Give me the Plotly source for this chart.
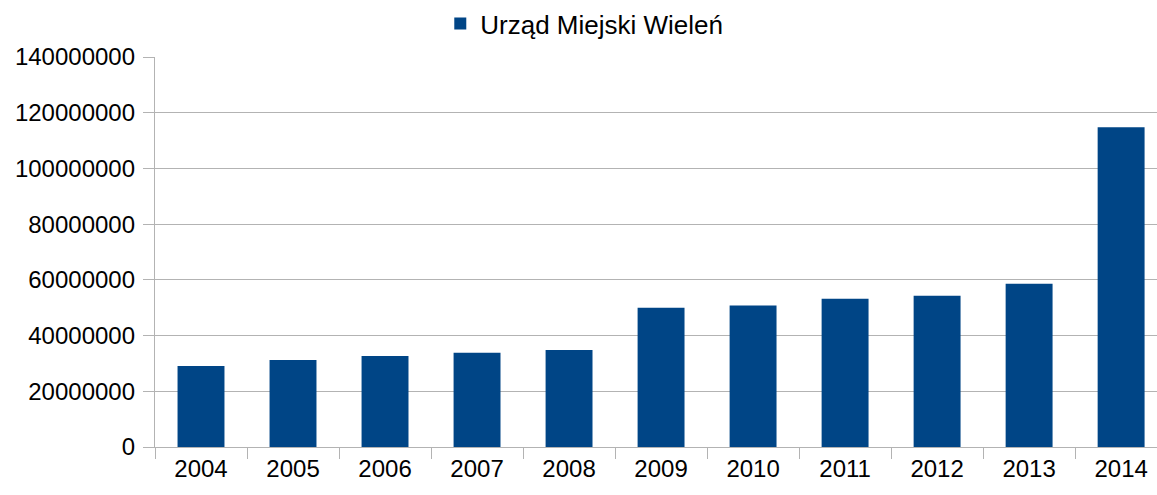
import plotly.graph_objects as go

years = ["2004", "2005", "2006", "2007", "2008", "2009", "2010", "2011", "2012", "2013", "2014"]
values = [29100000, 31200000, 32700000, 33800000, 34800000, 50000000, 50800000,
          53200000, 54300000, 58600000, 114800000]
series_name = "Urząd Miejski Wieleń"
y_ticks = [0, 20000000, 40000000, 60000000, 80000000, 100000000, 120000000, 140000000]

grid = "#b3b3b3"

fig = go.Figure()
fig.add_trace(go.Bar(x=years, y=values, name=series_name, marker_color="#004586",
                     marker_line_width=0, showlegend=True))

fig.update_layout(
    width=1157, height=495,
    margin=dict(l=155, r=0, t=57, b=48, autoexpand=False),
    paper_bgcolor="white", plot_bgcolor="white",
    font=dict(family="Liberation Sans, Arial, sans-serif", size=24, color="black"),
    bargap=0.49,
    showlegend=True,
    legend=dict(orientation="h", xref="container", yref="container", x=0.505, y=1.0,
                xanchor="center", yanchor="top", font=dict(size=26),
                itemwidth=30, bgcolor="rgba(0,0,0,0)"),
)
fig.update_xaxes(
    type="category", range=[-0.5, 10.39], tickson="boundaries", ticks="outside",
    ticklen=11, tickcolor=grid, tickwidth=1.3, showline=True, linecolor=grid, linewidth=1.3,
    showgrid=False, zeroline=False, tickfont=dict(size=24),
)
fig.update_yaxes(
    range=[0, 140000000], tickvals=y_ticks, ticktext=[str(v) for v in y_ticks],
    ticks="outside", ticklen=11, tickcolor=grid, tickwidth=1.3,
    showline=True, linecolor=grid, linewidth=1.3,
    showgrid=True, gridcolor=grid, gridwidth=1.3, zeroline=False,
    tickfont=dict(size=24), ticklabelstandoff=3,
)
fig.write_html("out.html", config={"displayModeBar": False},
               post_script="document.body.style.margin='0';document.body.style.overflow='hidden';")
